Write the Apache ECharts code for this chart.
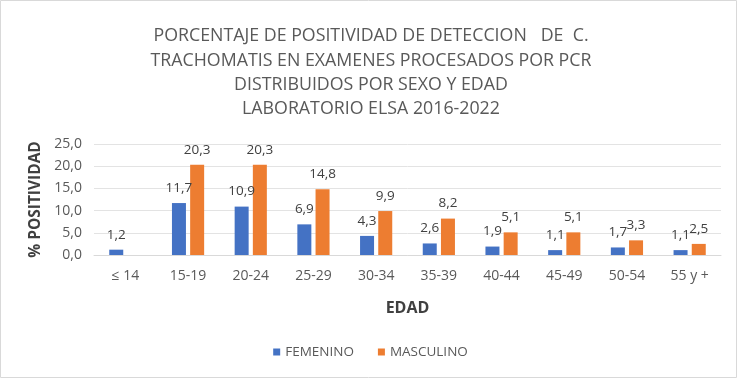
<!DOCTYPE html>
<html><head><meta charset="utf-8">
<script src="https://cdn.jsdelivr.net/npm/echarts@6/dist/echarts.min.js"></script>
<style>html,body{margin:0;padding:0;background:#fff}#c{width:741px;height:378px}</style>
</head><body><div id="c"></div>
<script>
var categories = ['≤ 14','15-19','20-24','25-29','30-34','35-39','40-44','45-49','50-54','55 y +'];
var femenino = [1.2, 11.7, 10.9, 6.9, 4.3, 2.6, 1.9, 1.1, 1.7, 1.1];
var masculino = [null, 20.3, 20.3, 14.8, 9.9, 8.2, 5.1, 5.1, 3.3, 2.5];
var titleLines = ['PORCENTAJE DE POSITIVIDAD DE DETECCION   DE  C.','TRACHOMATIS EN EXAMENES PROCESADOS POR PCR','DISTRIBUIDOS POR SEXO Y EDAD','LABORATORIO ELSA 2016-2022'];
var fmt = function(v){ return v.toFixed(1).replace('.', ','); };
var font = '"Open Sans", "Liberation Sans", sans-serif';
var chart = echarts.init(document.getElementById('c'));
var lbl = {show:true, position:'top', distance:8, color:'#404040', fontSize:13.5, fontFamily:font,
  formatter:function(p){ return p.value==null?'':fmt(p.value); }};
chart.setOption({
  animation:false,
  graphic:[{type:'rect', shape:{x:0.5,y:0.5,width:736,height:377}, style:{fill:'none', stroke:'#d9d9d9', lineWidth:1}, silent:true}],
  title:{text:titleLines.join('\n'), left:366, textAlign:'center', top:19,
    textStyle:{fontFamily:font, fontWeight:'normal', fontSize:17.8, color:'#595959', lineHeight:24.3}},
  legend:{bottom:14, left:'center', itemWidth:7, itemHeight:7, itemGap:24, icon:'rect',
    textStyle:{fontFamily:font, fontSize:13.5, color:'#595959'}},
  grid:{left:94, right:20, top:144, bottom:123},
  xAxis:{type:'category', data:categories, name:'EDAD', nameLocation:'middle', nameGap:45,
    nameTextStyle:{fontFamily:font, fontWeight:'bold', fontSize:16, color:'#404040'},
    axisLine:{lineStyle:{color:'#d9d9d9'}}, axisTick:{show:false},
    axisLabel:{fontFamily:font, fontSize:14, color:'#595959', margin:14}},
  yAxis:{type:'value', min:0, max:25, interval:5, name:'% POSITIVIDAD', nameLocation:'middle', nameGap:49,
    nameTextStyle:{fontFamily:font, fontWeight:'bold', fontSize:15.5, color:'#404040'},
    axisLabel:{formatter:fmt, fontFamily:font, fontSize:14, color:'#595959', margin:12},
    splitLine:{lineStyle:{color:'#e3e3e3'}}},
  series:[
    {name:'FEMENINO', type:'bar', data:femenino, barWidth:14, barGap:'30%', itemStyle:{color:'#4472C4'}, label:lbl},
    {name:'MASCULINO', type:'bar', data:masculino, barWidth:14, barGap:'30%', itemStyle:{color:'#ED7D31'}, label:lbl}
  ]
});
</script></body></html>
